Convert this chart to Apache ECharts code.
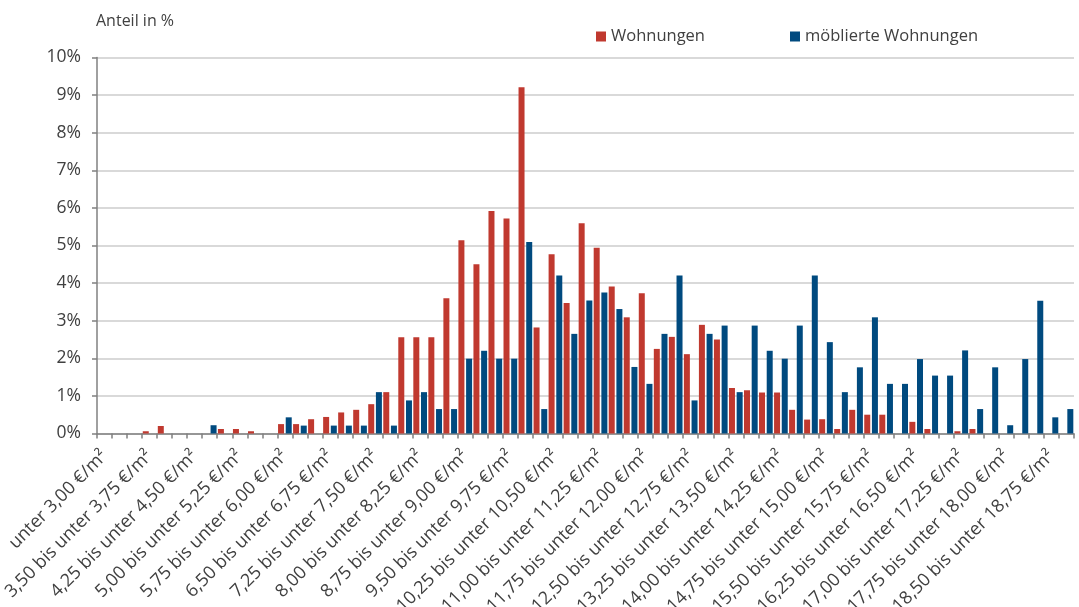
<!DOCTYPE html>
<html><head><meta charset="utf-8">
<script src="https://cdn.jsdelivr.net/npm/echarts@6/dist/echarts.min.js"></script>
<style>html,body{margin:0;padding:0;background:#fff}#c{width:1079px;height:607px}</style>
</head><body><div id="c"></div>
<script>
const categories = [
"unter 3,00 €/m²","3,00 bis unter 3,25 €/m²","3,25 bis unter 3,50 €/m²","3,50 bis unter 3,75 €/m²","3,75 bis unter 4,00 €/m²",
"4,00 bis unter 4,25 €/m²","4,25 bis unter 4,50 €/m²","4,50 bis unter 4,75 €/m²","4,75 bis unter 5,00 €/m²","5,00 bis unter 5,25 €/m²",
"5,25 bis unter 5,50 €/m²","5,50 bis unter 5,75 €/m²","5,75 bis unter 6,00 €/m²","6,00 bis unter 6,25 €/m²","6,25 bis unter 6,50 €/m²",
"6,50 bis unter 6,75 €/m²","6,75 bis unter 7,00 €/m²","7,00 bis unter 7,25 €/m²","7,25 bis unter 7,50 €/m²","7,50 bis unter 7,75 €/m²",
"7,75 bis unter 8,00 €/m²","8,00 bis unter 8,25 €/m²","8,25 bis unter 8,50 €/m²","8,50 bis unter 8,75 €/m²","8,75 bis unter 9,00 €/m²",
"9,00 bis unter 9,25 €/m²","9,25 bis unter 9,50 €/m²","9,50 bis unter 9,75 €/m²","9,75 bis unter 10,00 €/m²","10,00 bis unter 10,25 €/m²",
"10,25 bis unter 10,50 €/m²","10,50 bis unter 10,75 €/m²","10,75 bis unter 11,00 €/m²","11,00 bis unter 11,25 €/m²","11,25 bis unter 11,50 €/m²",
"11,50 bis unter 11,75 €/m²","11,75 bis unter 12,00 €/m²","12,00 bis unter 12,25 €/m²","12,25 bis unter 12,50 €/m²","12,50 bis unter 12,75 €/m²",
"12,75 bis unter 13,00 €/m²","13,00 bis unter 13,25 €/m²","13,25 bis unter 13,50 €/m²","13,50 bis unter 13,75 €/m²","13,75 bis unter 14,00 €/m²",
"14,00 bis unter 14,25 €/m²","14,25 bis unter 14,50 €/m²","14,50 bis unter 14,75 €/m²","14,75 bis unter 15,00 €/m²","15,00 bis unter 15,25 €/m²",
"15,25 bis unter 15,50 €/m²","15,50 bis unter 15,75 €/m²","15,75 bis unter 16,00 €/m²","16,00 bis unter 16,25 €/m²","16,25 bis unter 16,50 €/m²",
"16,50 bis unter 16,75 €/m²","16,75 bis unter 17,00 €/m²","17,00 bis unter 17,25 €/m²","17,25 bis unter 17,50 €/m²","17,50 bis unter 17,75 €/m²",
"17,75 bis unter 18,00 €/m²","18,00 bis unter 18,25 €/m²","18,25 bis unter 18,50 €/m²","18,50 bis unter 18,75 €/m²","18,75 €/m² und mehr"
];
const wohnungen = [
0,0,0,0.06,0.2, 0,0,0,0.12,0.12, 0.06,0,0.25,0.25,0.38, 0.44,0.56,0.63,0.78,1.1,
2.56,2.56,2.56,3.6,5.14, 4.5,5.92,5.72,9.21,2.82, 4.77,3.47,5.59,4.94,3.91, 3.09,3.73,2.25,2.57,2.11,
2.89,2.5,1.21,1.15,1.09, 1.09,0.63,0.37,0.38,0.12, 0.63,0.5,0.5,0,0.31, 0.12,0,0.06,0.12,0,
0,0,0,0,0
];
const moebliert = [
0,0,0,0,0, 0,0,0.22,0,0, 0,0,0.43,0.21,0, 0.21,0.21,0.21,1.1,0.21,
0.88,1.1,0.65,0.65,1.99, 2.2,1.99,1.99,5.09,0.65, 4.2,2.65,3.54,3.75,3.31, 1.77,1.32,2.65,4.2,0.88,
2.65,2.87,1.1,2.87,2.2, 1.99,2.87,4.2,2.43,1.1, 1.76,3.09,1.32,1.32,1.98, 1.54,1.54,2.21,0.65,1.76,
0.22,1.98,3.53,0.43,0.65
];
const yTicks = [0,1,2,3,4,5,6,7,8,9,10];
const RED = '#c0392f', BLUE = '#004a7f', TXT = '#404040';
const FONT = "'Open Sans', sans-serif";
const chart = echarts.init(document.getElementById('c'), null, {renderer:'canvas'});
chart.setOption({
  animation:false,
  textStyle:{fontFamily:FONT},
  title:{text:'Anteil in %', left:91, top:8, textStyle:{fontFamily:FONT, fontSize:16, fontWeight:'normal', color:TXT}},
  legend:[
    {data:['Wohnungen'], left:591, top:23, itemWidth:10, itemHeight:10, itemGap:10,
     textStyle:{fontFamily:FONT, fontSize:16.5, color:TXT}, icon:'rect'},
    {data:['möblierte Wohnungen'], left:785, top:23, itemWidth:10, itemHeight:10,
     textStyle:{fontFamily:FONT, fontSize:16.5, color:TXT}, icon:'rect'}
  ],
  grid:{left:97, right:5, top:57.5, bottom:173.5, containLabel:false, outerBoundsMode:'none'},
  xAxis:{type:'category', data:categories, boundaryGap:true,
    axisLine:{lineStyle:{color:'#808080', width:1.5}},
    axisTick:{show:true, interval:0, length:5, lineStyle:{color:'#808080', width:1.5}},
    axisLabel:{interval:2, rotate:45, fontFamily:FONT, fontSize:18, color:TXT, margin:20}},
  yAxis:{type:'value', min:0, max:10, interval:1,
    axisLine:{show:true, lineStyle:{color:'#808080', width:1.5}},
    axisTick:{show:true, length:5, lineStyle:{color:'#808080', width:1.5}},
    splitLine:{lineStyle:{color:'#d9d9d9', width:2}},
    axisLabel:{formatter:v=>v+'%', fontFamily:FONT, fontSize:17.5, color:TXT, margin:16}},
  series:[
    {name:'Wohnungen', type:'bar', data:wohnungen, itemStyle:{color:RED}, barWidth:6, barGap:'28%'},
    {name:'möblierte Wohnungen', type:'bar', data:moebliert, itemStyle:{color:BLUE}, barWidth:6, barGap:'28%'}
  ]
});
</script></body></html>
